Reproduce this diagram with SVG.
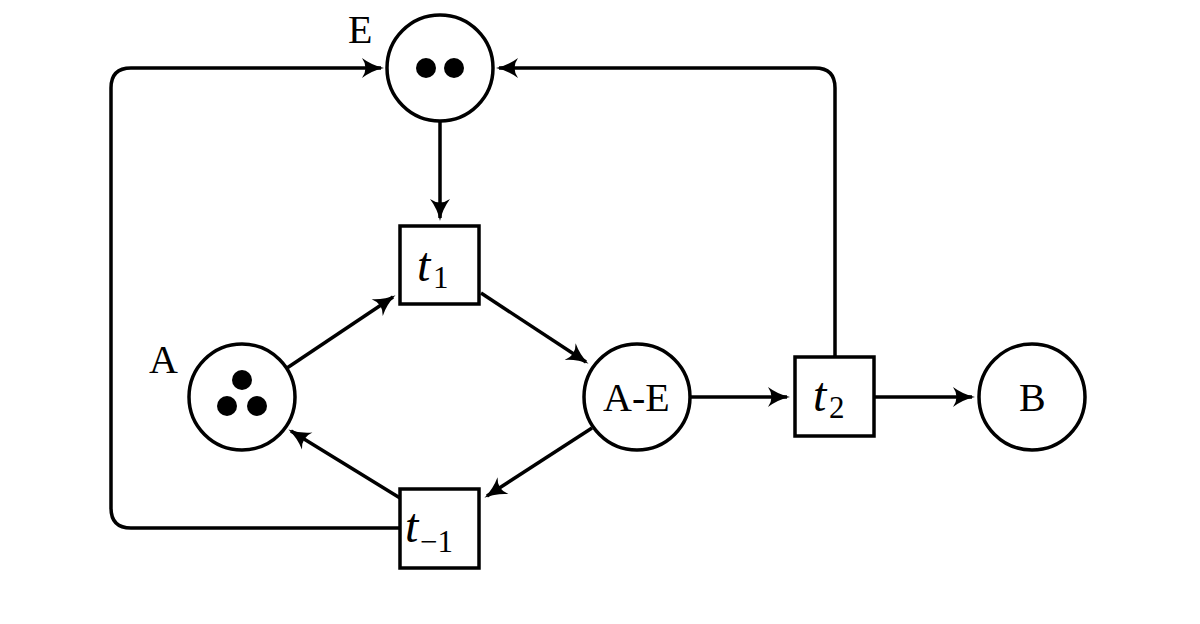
<svg xmlns="http://www.w3.org/2000/svg" width="1200" height="624" viewBox="0 0 1200 624">
<style>
.p{fill:#fff;stroke:#000;stroke-width:3.5}
.c{fill:none;stroke:#000;stroke-width:3.5}
.tok{fill:#000}
.lbl{font-family:"Liberation Serif",serif;font-size:40px;fill:#000}
.it{font-family:"Liberation Serif",serif;font-style:italic;font-size:48px;fill:#000}
.sub{font-family:"Liberation Serif",serif;font-size:31px;fill:#000}
</style>
<defs>
<marker id="ah" viewBox="0 0 24 24" refX="20" refY="12" markerWidth="24" markerHeight="24" markerUnits="userSpaceOnUse" orient="auto">
<path d="M1,2 Q11,9.5 23,12 Q11,14.5 1,22 Q8,12 1,2 Z" fill="#000"/>
</marker>
</defs>
<g id="connectors">
<path class="c" d="M400,528 H131 Q111,528 111,508 V88 Q111,68 131,68 H381" marker-end="url(#ah)"/>
<path class="c" d="M835,357 V88 Q835,68 815,68 H499" marker-end="url(#ah)"/>
<path class="c" d="M440,121 V218" marker-end="url(#ah)"/>
<path class="c" d="M287,368 L393,297" marker-end="url(#ah)"/>
<path class="c" d="M481,293 L586,362" marker-end="url(#ah)"/>
<path class="c" d="M592,428 L487,496" marker-end="url(#ah)"/>
<path class="c" d="M400,498 L291,431" marker-end="url(#ah)"/>
<path class="c" d="M690,397 H787" marker-end="url(#ah)"/>
<path class="c" d="M875,397 H972" marker-end="url(#ah)"/>
</g>
<g id="E">
<circle class="p" cx="440" cy="68" r="53"/>
<circle class="tok" cx="426" cy="68" r="10"/>
<circle class="tok" cx="454" cy="68" r="10"/>
<text class="lbl" x="348" y="43">E</text>
</g>
<g id="t1">
<rect class="p" x="400" y="226" width="79" height="78"/>
<text class="it" x="417" y="281">t</text><text class="sub" x="433" y="288">1</text>
</g>
<g id="A">
<circle class="p" cx="242" cy="397" r="53"/>
<circle class="tok" cx="242" cy="380" r="10"/>
<circle class="tok" cx="227" cy="406" r="10"/>
<circle class="tok" cx="257" cy="406" r="10"/>
<text class="lbl" x="149" y="373">A</text>
</g>
<g id="AE">
<circle class="p" cx="637" cy="397" r="53"/>
<text class="lbl" x="603" y="411">A-E</text>
</g>
<g id="t2">
<rect class="p" x="795" y="357" width="79" height="79"/>
<text class="it" x="813" y="411">t</text><text class="sub" x="829" y="418">2</text>
</g>
<g id="B">
<circle class="p" cx="1032" cy="397" r="53"/>
<text class="lbl" x="1019" y="411">B</text>
</g>
<g id="tm1">
<rect class="p" x="400" y="489" width="79" height="79"/>
<text class="it" x="405" y="542">t</text><text class="sub" x="420" y="552">−1</text>
</g>
</svg>
